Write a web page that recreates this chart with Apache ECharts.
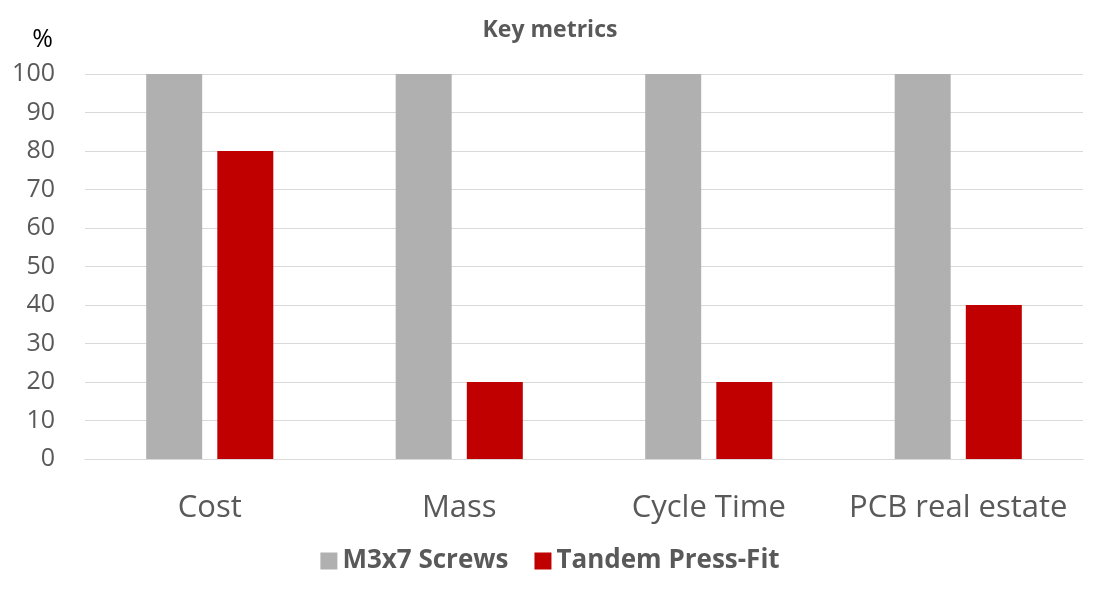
<!DOCTYPE html>
<html>
  <head>
    <meta charset="utf-8">
    <title>Key metrics</title>
    <script src="https://cdn.jsdelivr.net/npm/echarts@6/dist/echarts.min.js"></script>
  </head>
  <body style="margin:0;">
    <div id="main" style="width:1100px;height:593px;"></div>
    <script type="text/javascript">
      var categories = ['Cost', 'Mass', 'Cycle Time', 'PCB real estate'];
      var screws = [100, 100, 100, 100];
      var pressFit = [80, 20, 20, 40];
      var seriesNames = ['M3x7 Screws', 'Tandem Press-Fit'];

      var font = '"Open Sans", "Liberation Sans", sans-serif';
      var myChart = echarts.init(document.getElementById('main'));

      myChart.setOption({
        color: ['#b0b0b0', '#c00000'],
        textStyle: { fontFamily: font },
        title: {
          text: 'Key metrics',
          left: 'center',
          top: 14,
          textStyle: { fontFamily: font, fontSize: 23, fontWeight: 'bold', color: '#595959' }
        },
        legend: {
          data: seriesNames,
          bottom: 14,
          left: 'center',
          itemWidth: 17,
          itemHeight: 17,
          itemGap: 26,
          icon: 'rect',
          textStyle: { fontFamily: font, fontSize: 26, fontWeight: 'bold', color: '#595959' }
        },
        grid: { left: 85, right: 17, top: 74, bottom: 134 },
        xAxis: {
          type: 'category',
          data: categories,
          axisLine: { lineStyle: { color: '#d9d9d9' } },
          axisTick: { show: false },
          axisLabel: { fontSize: 31, color: '#595959', margin: 34, interval: 0 }
        },
        yAxis: {
          type: 'value',
          min: 0,
          max: 100,
          interval: 10,
          name: '%',
          nameLocation: 'end',
          nameGap: 22,
          nameTextStyle: { fontSize: 25, color: '#000', align: 'right', padding: [0, 32, 0, 0] },
          axisLine: { show: false },
          axisTick: { show: false },
          axisLabel: { fontSize: 25, color: '#595959', margin: 30 },
          splitLine: { lineStyle: { color: '#d9d9d9' } }
        },
        series: [
          { name: seriesNames[0], type: 'bar', data: screws, barWidth: 56, barGap: '27%' },
          { name: seriesNames[1], type: 'bar', data: pressFit, barWidth: 56 }
        ]
      });
    </script>
  </body>
</html>
